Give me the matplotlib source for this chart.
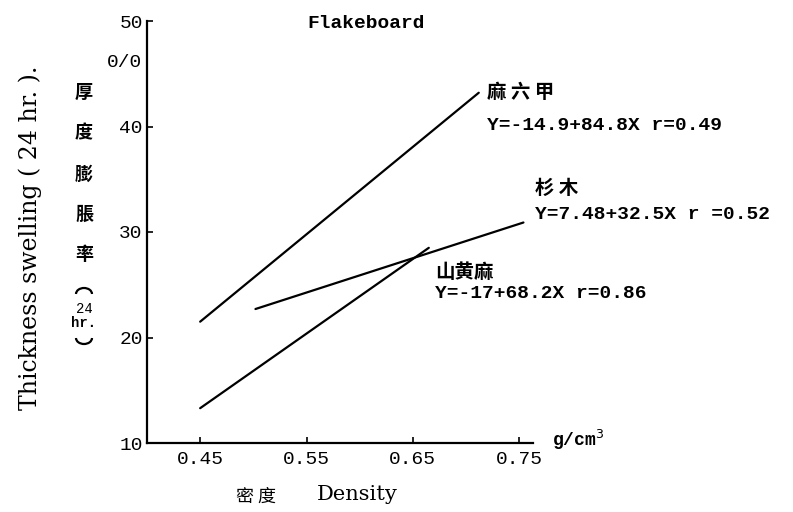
import matplotlib.pyplot as plt
from matplotlib.patches import Arc

# regression lines: thickness swelling vs board density
species = ['麻 六 甲', '杉 木', '山黄麻']
equations = ['Y=-14.9+84.8X r=0.49', 'Y=7.48+32.5X r =0.52', 'Y=-17+68.2X r=0.86']
x_start = [0.45, 0.502, 0.45]
x_end = [0.712, 0.754, 0.665]
y_start = [21.5, 22.7, 13.3]
y_end = [43.2, 30.9, 28.5]

x_ticks = [0.45, 0.55, 0.65, 0.75]
x_ticklabels = ['0.45', '0.55', '0.65', '0.75']
y_ticks = [10, 20, 30, 40, 50]
y_ticklabels = ['10', '20', '30', '40', '50']

mono = ['Liberation Mono', 'DejaVu Sans Mono']
cjk = ['Noto Sans CJK TC', 'DejaVu Sans']
serif = ['DejaVu Serif']

W, H = 793, 512
fig = plt.figure(figsize=(W / 100, H / 100), dpi=100)
ax = fig.add_axes([147 / W, (H - 443) / H, (533 - 147) / W, (443 - 21) / H])

for i in range(len(species)):
    ax.plot([x_start[i], x_end[i]], [y_start[i], y_end[i]], color='black', lw=1.6,
            solid_capstyle='round')

ax.set_xlim(0.40, 0.763)
ax.set_ylim(10, 50)
for s in ['top', 'right']:
    ax.spines[s].set_visible(False)
for s in ['left', 'bottom']:
    ax.spines[s].set_linewidth(1.6)

ax.set_xticks(x_ticks)
ax.set_xticklabels(x_ticklabels, fontfamily=mono, fontsize=14)
ax.set_yticks(y_ticks)
ax.set_yticklabels(y_ticklabels, fontfamily=mono, fontsize=14)
ax.tick_params(direction='in', length=4, width=1.2, pad=6)
ax.tick_params(axis='y', pad=3)

# percent unit under the top tick
ax.text(0.395, 46.1, '0/0', ha='right', va='center', fontsize=14, fontfamily=mono)

# species names and regression equations
name_pos = [(0.720, 43.2), (0.765, 34.1), (0.671, 26.2)]
eq_pos = [(0.720, 40.1), (0.765, 31.7), (0.671, 24.2)]
for i in range(len(species)):
    ax.text(*name_pos[i], species[i], ha='left', va='center', fontsize=14,
            fontfamily=cjk, fontweight='bold', clip_on=False)
    ax.text(*eq_pos[i], equations[i], ha='left', va='center', fontsize=14,
            fontfamily=mono, fontweight='bold', clip_on=False)

fig.text(366 / W, 1 - 24 / H, 'Flakeboard', ha='center', va='center', fontsize=14,
         fontfamily=mono, fontweight='bold')
fig.text(552 / W, 1 - 440 / H, 'g/cm$^3$', ha='left', va='center', fontsize=13,
         fontfamily=mono, fontweight='bold')

# axis titles
fig.text(30 / W, 1 - 238 / H, 'Thickness swelling ( 24 hr. ).', rotation=90,
         ha='center', va='center', fontsize=17, fontfamily=serif)
for ch, py in zip('厚度膨脹率', [92, 133, 174, 214, 255]):
    fig.text(84 / W, 1 - py / H, ch, ha='center', va='center', fontsize=13,
             fontfamily=cjk, fontweight='bold')
# vertical-text brackets around "24 hr."
fig.add_artist(Arc((84 / W, 1 - 294 / H), 16 / W, 12 / H, theta1=0, theta2=180,
                   transform=fig.transFigure, lw=1.6, color='black'))
fig.add_artist(Arc((84 / W, 1 - 338 / H), 16 / W, 12 / H, theta1=180, theta2=360,
                   transform=fig.transFigure, lw=1.6, color='black'))
fig.text(84 / W, 1 - 309 / H, '24', ha='center', va='center', fontsize=10, fontfamily=mono)
fig.text(84 / W, 1 - 323 / H, 'hr.', ha='center', va='center', fontsize=10,
         fontfamily=mono, fontweight='bold')

fig.text(256 / W, 1 - 497 / H, '密 度', ha='center', va='center', fontsize=13,
         fontfamily=cjk)
fig.text(357 / W, 1 - 494 / H, 'Density', ha='center', va='center', fontsize=15,
         fontfamily=serif)

fig.savefig('out.png', dpi=100)
